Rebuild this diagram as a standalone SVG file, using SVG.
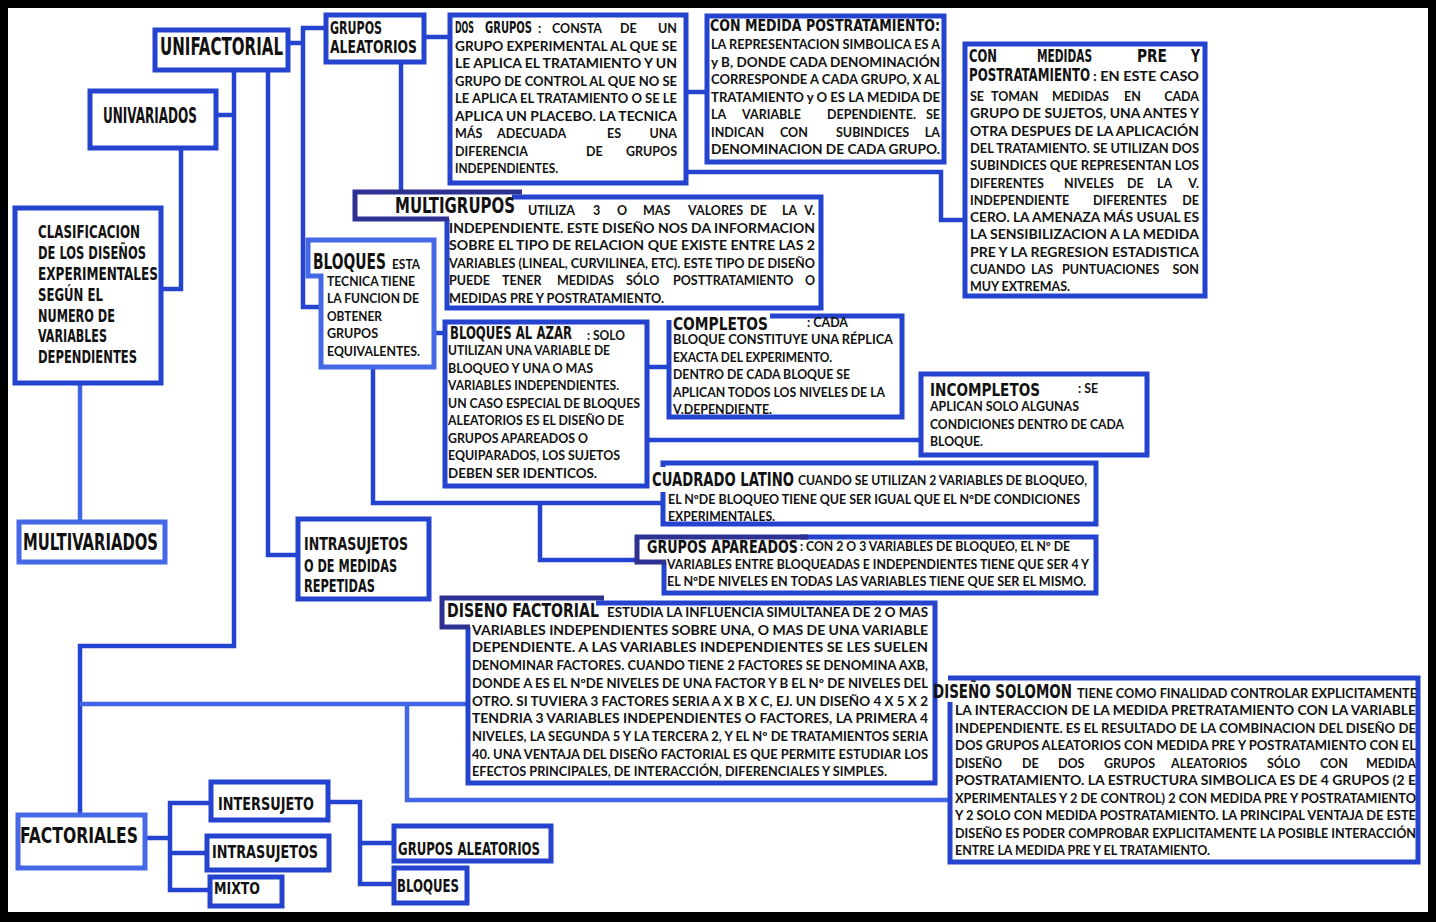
<svg xmlns="http://www.w3.org/2000/svg" width="1436" height="922" viewBox="0 0 1436 922">
<style>
.b{fill:#fff;stroke:#2443cf;stroke-width:5}
.bl{fill:#fff;stroke:#4468e6;stroke-width:5}
.o{fill:none;stroke:#2443cf;stroke-width:5}
.dk{fill:none;stroke:#2c3192;stroke-width:5}
.c{fill:none;stroke:#2443cf;stroke-width:4.5}
.cl{fill:none;stroke:#4166e4;stroke-width:4.5}
.h{font-family:"Liberation Sans Narrow","DejaVu Sans Condensed","Liberation Sans",sans-serif;font-weight:700;fill:#111}
.t{font-family:Lato,"Liberation Sans",sans-serif;font-weight:700;font-size:12.5px;fill:#111}
</style>
<rect x="0" y="0" width="1436" height="922" fill="#000"/>
<rect x="8" y="8" width="1420" height="904" fill="#fff"/>

<g id="connectors">
<path class="c" d="M161,289 H181 V148"/>
<path class="c" d="M217,115 H234"/>
<path class="c" d="M234,71 V646 H80 V815"/>
<path class="cl" d="M80,383 V520"/>
<path class="cl" d="M80,704 H468"/>
<path class="cl" d="M407,704 V800 H950"/>
<path class="c" d="M268,71 V555 H298"/>
<path class="c" d="M290,43 H303"/>
<path class="c" d="M326,28 H303 V307 H321"/>
<path class="c" d="M424,37 H450"/>
<path class="c" d="M401,62 V192"/>
<path class="c" d="M686,92 H707"/>
<path class="c" d="M686,172 H941 V220 H965"/>
<path class="c" d="M434,333 H445"/>
<path class="c" d="M373,367 V503 H663"/>
<path class="c" d="M540,503 V560 H637"/>
<path class="c" d="M647,367 H669"/>
<path class="c" d="M647,440 H921"/>
<path class="c" d="M145,838 H170"/>
<path class="c" d="M211,803 H170 V890 H210"/>
<path class="c" d="M170,853 H207"/>
<path class="c" d="M328,802 H360 V884 H394"/>
<path class="c" d="M360,843 H394"/>
</g>

<g id="unifactorial">
<rect class="b" x="155" y="30" width="133" height="40"/>
<text class="h" x="160" y="55" font-size="25" textLength="123" lengthAdjust="spacingAndGlyphs">UNIFACTORIAL</text>
</g>

<g id="univariados">
<rect class="b" x="90" y="91" width="126" height="57"/>
<text class="h" x="103" y="123" font-size="22" textLength="94" lengthAdjust="spacingAndGlyphs">UNIVARIADOS</text>
</g>

<g id="clasificacion">
<rect class="b" x="15" y="208" width="146" height="175"/>
<g class="h" font-size="17">
<text x="38" y="238" textLength="102" lengthAdjust="spacingAndGlyphs">CLASIFICACION</text>
<text x="38" y="259" textLength="108" lengthAdjust="spacingAndGlyphs">DE LOS DISEÑOS</text>
<text x="38" y="280" textLength="120" lengthAdjust="spacingAndGlyphs">EXPERIMENTALES</text>
<text x="38" y="301" textLength="65" lengthAdjust="spacingAndGlyphs">SEGÚN EL</text>
<text x="38" y="322" textLength="77" lengthAdjust="spacingAndGlyphs">NUMERO DE</text>
<text x="38" y="342" textLength="69" lengthAdjust="spacingAndGlyphs">VARIABLES</text>
<text x="38" y="363" textLength="99" lengthAdjust="spacingAndGlyphs">DEPENDIENTES</text>
</g>
</g>

<g id="multivariados">
<rect class="bl" x="19" y="522" width="146" height="40"/>
<text class="h" x="23" y="550" font-size="23" textLength="135" lengthAdjust="spacingAndGlyphs">MULTIVARIADOS</text>
</g>

<g id="grupos-aleatorios">
<rect class="b" x="326" y="15" width="98" height="47"/>
<text class="h" x="330" y="34" font-size="17" textLength="52" lengthAdjust="spacingAndGlyphs">GRUPOS</text>
<text class="h" x="330" y="53" font-size="17" textLength="87" lengthAdjust="spacingAndGlyphs">ALEATORIOS</text>
</g>

<g id="dos-grupos">
<rect class="b" x="450" y="15" width="236" height="168"/>
<text class="h" x="455" y="33" font-size="16" textLength="19" lengthAdjust="spacingAndGlyphs">DOS</text>
<text class="h" x="485" y="33" font-size="16" textLength="47" lengthAdjust="spacingAndGlyphs">GRUPOS</text>
<text class="t" x="538" y="33">:</text>
<text class="t" x="552" y="33">CONSTA</text>
<text class="t" x="620" y="33">DE</text>
<text class="t" x="677" y="33" text-anchor="end">UN</text>
<text class="t" x="455" y="51" textLength="222" lengthAdjust="spacingAndGlyphs">GRUPO EXPERIMENTAL AL QUE SE</text>
<text class="t" x="455" y="68" textLength="222" lengthAdjust="spacingAndGlyphs">LE APLICA EL TRATAMIENTO Y UN</text>
<text class="t" x="455" y="86" textLength="222" lengthAdjust="spacingAndGlyphs">GRUPO DE CONTROL AL QUE NO SE</text>
<text class="t" x="455" y="103" textLength="222" lengthAdjust="spacingAndGlyphs">LE APLICA EL TRATAMIENTO O SE LE</text>
<text class="t" x="455" y="121" textLength="222" lengthAdjust="spacingAndGlyphs">APLICA UN PLACEBO. LA TECNICA</text>
<text class="t" x="455" y="138">MÁS</text>
<text class="t" x="497" y="138">ADECUADA</text>
<text class="t" x="607" y="138">ES</text>
<text class="t" x="677" y="138" text-anchor="end">UNA</text>
<text class="t" x="455" y="156">DIFERENCIA</text>
<text class="t" x="586" y="156">DE</text>
<text class="t" x="677" y="156" text-anchor="end">GRUPOS</text>
<text class="t" x="455" y="173" textLength="103" lengthAdjust="spacingAndGlyphs">INDEPENDIENTES.</text>
</g>

<g id="con-medida-post">
<rect class="b" x="707" y="16" width="237" height="146"/>
<text class="h" x="710" y="31" font-size="16" textLength="230" lengthAdjust="spacingAndGlyphs">CON MEDIDA POSTRATAMIENTO:</text>
<text class="t" x="711" y="49" textLength="229" lengthAdjust="spacingAndGlyphs">LA REPRESENTACION SIMBOLICA ES A</text>
<text class="t" x="711" y="66.5" textLength="229" lengthAdjust="spacingAndGlyphs">y B, DONDE CADA DENOMINACIÓN</text>
<text class="t" x="711" y="84" textLength="229" lengthAdjust="spacingAndGlyphs">CORRESPONDE A CADA GRUPO, X AL</text>
<text class="t" x="711" y="101.5" textLength="229" lengthAdjust="spacingAndGlyphs">TRATAMIENTO y O ES LA MEDIDA DE</text>
<text class="t" x="711" y="119">LA</text>
<text class="t" x="742" y="119">VARIABLE</text>
<text class="t" x="827" y="119">DEPENDIENTE.</text>
<text class="t" x="940" y="119" text-anchor="end">SE</text>
<text class="t" x="711" y="136.5">INDICAN</text>
<text class="t" x="780" y="136.5">CON</text>
<text class="t" x="836" y="136.5">SUBINDICES</text>
<text class="t" x="940" y="136.5" text-anchor="end">LA</text>
<text class="t" x="711" y="154" textLength="229" lengthAdjust="spacingAndGlyphs">DENOMINACION DE CADA GRUPO.</text>
</g>

<g id="con-medidas-pre">
<rect class="b" x="965" y="44" width="240" height="252"/>
<text class="h" x="969" y="62" font-size="17" textLength="28" lengthAdjust="spacingAndGlyphs">CON</text>
<text class="h" x="1037" y="62" font-size="17" textLength="55" lengthAdjust="spacingAndGlyphs">MEDIDAS</text>
<text class="h" x="1137" y="62" font-size="17" textLength="30" lengthAdjust="spacingAndGlyphs">PRE</text>
<text class="h" x="1191" y="62" font-size="17" textLength="9" lengthAdjust="spacingAndGlyphs">Y</text>
<text class="h" x="969" y="81" font-size="17" textLength="121" lengthAdjust="spacingAndGlyphs">POSTRATAMIENTO</text>
<text class="t" x="1093" y="81" textLength="106" lengthAdjust="spacingAndGlyphs">: EN ESTE CASO</text>
<text class="t" x="970" y="101">SE</text>
<text class="t" x="991" y="101">TOMAN</text>
<text class="t" x="1052" y="101">MEDIDAS</text>
<text class="t" x="1124" y="101">EN</text>
<text class="t" x="1199" y="101" text-anchor="end">CADA</text>
<text class="t" x="970" y="118.3" textLength="229" lengthAdjust="spacingAndGlyphs">GRUPO DE SUJETOS, UNA ANTES Y</text>
<text class="t" x="970" y="135.6" textLength="229" lengthAdjust="spacingAndGlyphs">OTRA DESPUES DE LA APLICACIÓN</text>
<text class="t" x="970" y="152.9" textLength="229" lengthAdjust="spacingAndGlyphs">DEL TRATAMIENTO. SE UTILIZAN DOS</text>
<text class="t" x="970" y="170.2" textLength="229" lengthAdjust="spacingAndGlyphs">SUBINDICES QUE REPRESENTAN LOS</text>
<text class="t" x="970" y="187.5">DIFERENTES</text>
<text class="t" x="1064" y="187.5">NIVELES</text>
<text class="t" x="1127" y="187.5">DE</text>
<text class="t" x="1157" y="187.5">LA</text>
<text class="t" x="1199" y="187.5" text-anchor="end">V.</text>
<text class="t" x="970" y="204.8">INDEPENDIENTE</text>
<text class="t" x="1093" y="204.8">DIFERENTES</text>
<text class="t" x="1199" y="204.8" text-anchor="end">DE</text>
<text class="t" x="970" y="222.1" textLength="229" lengthAdjust="spacingAndGlyphs">CERO. LA AMENAZA MÁS USUAL ES</text>
<text class="t" x="970" y="239.4" textLength="229" lengthAdjust="spacingAndGlyphs">LA SENSIBILIZACION A LA MEDIDA</text>
<text class="t" x="970" y="256.7" textLength="229" lengthAdjust="spacingAndGlyphs">PRE Y LA REGRESION ESTADISTICA</text>
<text class="t" x="970" y="274">CUANDO</text>
<text class="t" x="1031" y="274">LAS</text>
<text class="t" x="1062" y="274">PUNTUACIONES</text>
<text class="t" x="1199" y="274" text-anchor="end">SON</text>
<text class="t" x="970" y="291.3" textLength="100" lengthAdjust="spacingAndGlyphs">MUY EXTREMAS.</text>
</g>

<g id="multigrupos">
<path class="o" d="M447,219 V308 H821 V197 H512"/>
<path class="dk" d="M522,192 H355 V219 H449"/>
<text class="h" x="395" y="213" font-size="21" textLength="120" lengthAdjust="spacingAndGlyphs">MULTIGRUPOS</text>
<text class="t" x="528" y="215">UTILIZA</text>
<text class="t" x="593" y="215">3</text>
<text class="t" x="617" y="215">O</text>
<text class="t" x="643" y="215">MAS</text>
<text class="t" x="688" y="215">VALORES</text>
<text class="t" x="750" y="215">DE</text>
<text class="t" x="782" y="215">LA</text>
<text class="t" x="815" y="215" text-anchor="end">V.</text>
<text class="t" x="449" y="232.5" textLength="366" lengthAdjust="spacingAndGlyphs">INDEPENDIENTE. ESTE DISEÑO NOS DA INFORMACION</text>
<text class="t" x="449" y="250" textLength="366" lengthAdjust="spacingAndGlyphs">SOBRE EL TIPO DE RELACION QUE EXISTE ENTRE LAS 2</text>
<text class="t" x="449" y="267.5" textLength="366" lengthAdjust="spacingAndGlyphs">VARIABLES (LINEAL, CURVILINEA, ETC). ESTE TIPO DE DISEÑO</text>
<text class="t" x="449" y="285">PUEDE</text>
<text class="t" x="502" y="285">TENER</text>
<text class="t" x="557" y="285">MEDIDAS</text>
<text class="t" x="626" y="285">SÓLO</text>
<text class="t" x="673" y="285">POSTTRATAMIENTO</text>
<text class="t" x="815" y="285" text-anchor="end">O</text>
<text class="t" x="449" y="302.5" textLength="215" lengthAdjust="spacingAndGlyphs">MEDIDAS PRE Y POSTRATAMIENTO.</text>
</g>

<g id="bloques">
<path class="bl" d="M308,240 H434 V367 H321 V276 H308 Z"/>
<text class="h" x="313" y="269" font-size="21" textLength="73" lengthAdjust="spacingAndGlyphs">BLOQUES</text>
<text class="t" x="392" y="269" textLength="28" lengthAdjust="spacingAndGlyphs">ESTA</text>
<text class="t" x="327" y="286" textLength="88" lengthAdjust="spacingAndGlyphs">TECNICA TIENE</text>
<text class="t" x="327" y="303" textLength="92" lengthAdjust="spacingAndGlyphs">LA FUNCION DE</text>
<text class="t" x="327" y="321" textLength="55" lengthAdjust="spacingAndGlyphs">OBTENER</text>
<text class="t" x="327" y="338" textLength="51" lengthAdjust="spacingAndGlyphs">GRUPOS</text>
<text class="t" x="327" y="356" textLength="93" lengthAdjust="spacingAndGlyphs">EQUIVALENTES.</text>
</g>

<g id="bloques-al-azar">
<rect class="b" x="445" y="322" width="202" height="164"/>
<text class="h" x="450" y="339" font-size="17" textLength="122" lengthAdjust="spacingAndGlyphs">BLOQUES AL AZAR</text>
<text class="t" x="587" y="340" textLength="38" lengthAdjust="spacingAndGlyphs">: SOLO</text>
<text class="t" x="448" y="355" textLength="162" lengthAdjust="spacingAndGlyphs">UTILIZAN UNA VARIABLE DE</text>
<text class="t" x="448" y="373" textLength="145" lengthAdjust="spacingAndGlyphs">BLOQUEO Y UNA O MAS</text>
<text class="t" x="448" y="390" textLength="171" lengthAdjust="spacingAndGlyphs">VARIABLES INDEPENDIENTES.</text>
<text class="t" x="448" y="408" textLength="192" lengthAdjust="spacingAndGlyphs">UN CASO ESPECIAL DE BLOQUES</text>
<text class="t" x="448" y="425" textLength="176" lengthAdjust="spacingAndGlyphs">ALEATORIOS ES EL DISEÑO DE</text>
<text class="t" x="448" y="443" textLength="140" lengthAdjust="spacingAndGlyphs">GRUPOS APAREADOS O</text>
<text class="t" x="448" y="460" textLength="172" lengthAdjust="spacingAndGlyphs">EQUIPARADOS, LOS SUJETOS</text>
<text class="t" x="448" y="478" textLength="149" lengthAdjust="spacingAndGlyphs">DEBEN SER IDENTICOS.</text>
</g>

<g id="completos">
<path class="o" d="M770,316 H902 V417 H669 V320"/>
<text class="h" x="673" y="330" font-size="18" textLength="95" lengthAdjust="spacingAndGlyphs">COMPLETOS</text>
<text class="t" x="807" y="327" textLength="41" lengthAdjust="spacingAndGlyphs">: CADA</text>
<text class="t" x="673" y="344" textLength="220" lengthAdjust="spacingAndGlyphs">BLOQUE CONSTITUYE UNA RÉPLICA</text>
<text class="t" x="673" y="362" textLength="159" lengthAdjust="spacingAndGlyphs">EXACTA DEL EXPERIMENTO.</text>
<text class="t" x="673" y="379" textLength="177" lengthAdjust="spacingAndGlyphs">DENTRO DE CADA BLOQUE SE</text>
<text class="t" x="673" y="397" textLength="212" lengthAdjust="spacingAndGlyphs">APLICAN TODOS LOS NIVELES DE LA</text>
<text class="t" x="673" y="414" textLength="99" lengthAdjust="spacingAndGlyphs">V.DEPENDIENTE.</text>
</g>

<g id="incompletos">
<rect class="b" x="921" y="374" width="226" height="81"/>
<text class="h" x="930" y="396" font-size="18" textLength="110" lengthAdjust="spacingAndGlyphs">INCOMPLETOS</text>
<text class="t" x="1078" y="393" textLength="20" lengthAdjust="spacingAndGlyphs">: SE</text>
<text class="t" x="930" y="411" textLength="149" lengthAdjust="spacingAndGlyphs">APLICAN SOLO ALGUNAS</text>
<text class="t" x="930" y="429" textLength="194" lengthAdjust="spacingAndGlyphs">CONDICIONES DENTRO DE CADA</text>
<text class="t" x="930" y="446" textLength="53" lengthAdjust="spacingAndGlyphs">BLOQUE.</text>
</g>

<g id="cuadrado-latino">
<path class="o" d="M663,492 V524 H1096 V463 H663 V467"/>
<text class="h" x="652" y="486" font-size="19" textLength="142" lengthAdjust="spacingAndGlyphs">CUADRADO LATINO</text>
<text class="t" x="798" y="485" textLength="289" lengthAdjust="spacingAndGlyphs">CUANDO SE UTILIZAN 2 VARIABLES DE BLOQUEO,</text>
<text class="t" x="668" y="504" textLength="412" lengthAdjust="spacingAndGlyphs">EL NºDE BLOQUEO TIENE QUE SER IGUAL QUE EL NºDE CONDICIONES</text>
<text class="t" x="668" y="521" textLength="107" lengthAdjust="spacingAndGlyphs">EXPERIMENTALES.</text>
</g>

<g id="grupos-apareados">
<path class="o" d="M664,562 V593 H1096 V537 H800"/>
<path class="dk" d="M808,537 H637 V562 H666"/>
<text class="h" x="647" y="553" font-size="17" textLength="151" lengthAdjust="spacingAndGlyphs">GRUPOS APAREADOS</text>
<text class="t" x="800" y="551" textLength="270" lengthAdjust="spacingAndGlyphs">: CON 2 O 3 VARIABLES DE BLOQUEO, EL Nº DE</text>
<text class="t" x="667" y="569" textLength="422" lengthAdjust="spacingAndGlyphs">VARIABLES ENTRE BLOQUEADAS E INDEPENDIENTES TIENE QUE SER 4 Y</text>
<text class="t" x="667" y="586" textLength="419" lengthAdjust="spacingAndGlyphs">EL NºDE NIVELES EN TODAS LAS VARIABLES TIENE QUE SER EL MISMO.</text>
</g>

<g id="intrasujetos-medidas">
<rect class="b" x="298" y="519" width="131" height="80"/>
<text class="h" x="304" y="550" font-size="18" textLength="104" lengthAdjust="spacingAndGlyphs">INTRASUJETOS</text>
<text class="h" x="304" y="572" font-size="18" textLength="93" lengthAdjust="spacingAndGlyphs">O DE MEDIDAS</text>
<text class="h" x="304" y="592" font-size="18" textLength="71" lengthAdjust="spacingAndGlyphs">REPETIDAS</text>
</g>

<g id="diseno-factorial">
<path class="o" d="M468,627 V783 H935 V603 H596"/>
<path class="dk" d="M604,598 H442 V627 H470"/>
<text class="h" x="447" y="617" font-size="19" textLength="152" lengthAdjust="spacingAndGlyphs">DISENO FACTORIAL</text>
<text class="t" x="607" y="617" textLength="321" lengthAdjust="spacingAndGlyphs">ESTUDIA LA INFLUENCIA SIMULTANEA DE 2 O MAS</text>
<text class="t" x="472" y="634.7" textLength="456" lengthAdjust="spacingAndGlyphs">VARIABLES INDEPENDIENTES SOBRE UNA, O MAS DE UNA VARIABLE</text>
<text class="t" x="472" y="652.4" textLength="456" lengthAdjust="spacingAndGlyphs">DEPENDIENTE. A LAS VARIABLES INDEPENDIENTES SE LES SUELEN</text>
<text class="t" x="472" y="670" textLength="456" lengthAdjust="spacingAndGlyphs">DENOMINAR FACTORES. CUANDO TIENE 2 FACTORES SE DENOMINA AXB,</text>
<text class="t" x="472" y="687.8" textLength="456" lengthAdjust="spacingAndGlyphs">DONDE A ES EL NºDE NIVELES DE UNA FACTOR Y B EL Nº DE NIVELES DEL</text>
<text class="t" x="472" y="705.5" textLength="456" lengthAdjust="spacingAndGlyphs">OTRO. SI TUVIERA 3 FACTORES SERIA A X B X C, EJ. UN DISEÑO 4 X 5 X 2</text>
<text class="t" x="472" y="723" textLength="456" lengthAdjust="spacingAndGlyphs">TENDRIA 3 VARIABLES INDEPENDIENTES O FACTORES, LA PRIMERA 4</text>
<text class="t" x="472" y="741" textLength="456" lengthAdjust="spacingAndGlyphs">NIVELES, LA SEGUNDA 5 Y LA TERCERA 2, Y EL Nº DE TRATAMIENTOS SERIA</text>
<text class="t" x="472" y="758.6" textLength="456" lengthAdjust="spacingAndGlyphs">40. UNA VENTAJA DEL DISEÑO FACTORIAL ES QUE PERMITE ESTUDIAR LOS</text>
<text class="t" x="472" y="776" textLength="415" lengthAdjust="spacingAndGlyphs">EFECTOS PRINCIPALES, DE INTERACCIÓN, DIFERENCIALES Y SIMPLES.</text>
</g>

<g id="diseno-solomon">
<path class="o" d="M950,702 V862 H1418 V678 H948"/>
<text class="h" x="933" y="698" font-size="19" textLength="139" lengthAdjust="spacingAndGlyphs">DISEÑO SOLOMON</text>
<text class="t" x="1077" y="698" textLength="340" lengthAdjust="spacingAndGlyphs">TIENE COMO FINALIDAD CONTROLAR EXPLICITAMENTE</text>
<text class="t" x="955" y="715" textLength="461" lengthAdjust="spacingAndGlyphs">LA INTERACCION DE LA MEDIDA PRETRATAMIENTO CON LA VARIABLE</text>
<text class="t" x="955" y="732.5" textLength="461" lengthAdjust="spacingAndGlyphs">INDEPENDIENTE. ES EL RESULTADO DE LA COMBINACION DEL DISEÑO DE</text>
<text class="t" x="955" y="750" textLength="461" lengthAdjust="spacingAndGlyphs">DOS GRUPOS ALEATORIOS CON MEDIDA PRE Y POSTRATAMIENTO CON EL</text>
<text class="t" x="955" y="767.5">DISEÑO</text>
<text class="t" x="1022" y="767.5">DE</text>
<text class="t" x="1058" y="767.5">DOS</text>
<text class="t" x="1104" y="767.5">GRUPOS</text>
<text class="t" x="1171" y="767.5">ALEATORIOS</text>
<text class="t" x="1267" y="767.5">SÓLO</text>
<text class="t" x="1320" y="767.5">CON</text>
<text class="t" x="1416" y="767.5" text-anchor="end">MEDIDA</text>
<text class="t" x="955" y="785" textLength="461" lengthAdjust="spacingAndGlyphs">POSTRATAMIENTO. LA ESTRUCTURA SIMBOLICA ES DE 4 GRUPOS (2 E</text>
<text class="t" x="955" y="802.5" textLength="461" lengthAdjust="spacingAndGlyphs">XPERIMENTALES Y 2 DE CONTROL) 2 CON MEDIDA PRE Y POSTRATAMIENTO</text>
<text class="t" x="955" y="820" textLength="461" lengthAdjust="spacingAndGlyphs">Y 2 SOLO CON MEDIDA POSTRATAMIENTO. LA PRINCIPAL VENTAJA DE ESTE</text>
<text class="t" x="955" y="837.5" textLength="461" lengthAdjust="spacingAndGlyphs">DISEÑO ES PODER COMPROBAR EXPLICITAMENTE LA POSIBLE INTERACCIÓN</text>
<text class="t" x="955" y="855" textLength="255" lengthAdjust="spacingAndGlyphs">ENTRE LA MEDIDA PRE Y EL TRATAMIENTO.</text>
</g>

<g id="factoriales">
<rect class="bl" x="18" y="815" width="127" height="53"/>
<text class="h" x="20" y="843" font-size="22" textLength="118" lengthAdjust="spacingAndGlyphs">FACTORIALES</text>
</g>

<g id="intersujeto">
<rect class="b" x="211" y="782" width="117" height="38"/>
<text class="h" x="218" y="810" font-size="17" textLength="96" lengthAdjust="spacingAndGlyphs">INTERSUJETO</text>
</g>

<g id="intrasujetos">
<rect class="b" x="207" y="836" width="122" height="34"/>
<text class="h" x="212" y="858" font-size="18" textLength="106" lengthAdjust="spacingAndGlyphs">INTRASUJETOS</text>
</g>

<g id="mixto">
<rect class="b" x="210" y="877" width="72" height="29"/>
<text class="h" x="214" y="894" font-size="15" textLength="46" lengthAdjust="spacingAndGlyphs">MIXTO</text>
</g>

<g id="grupos-aleatorios-2">
<rect class="b" x="394" y="826" width="157" height="35"/>
<text class="h" x="398" y="855" font-size="18" textLength="142" lengthAdjust="spacingAndGlyphs">GRUPOS ALEATORIOS</text>
</g>

<g id="bloques-2">
<rect class="b" x="394" y="868" width="73" height="35"/>
<text class="h" x="397" y="892" font-size="17" textLength="62" lengthAdjust="spacingAndGlyphs">BLOQUES</text>
</g>
</svg>
